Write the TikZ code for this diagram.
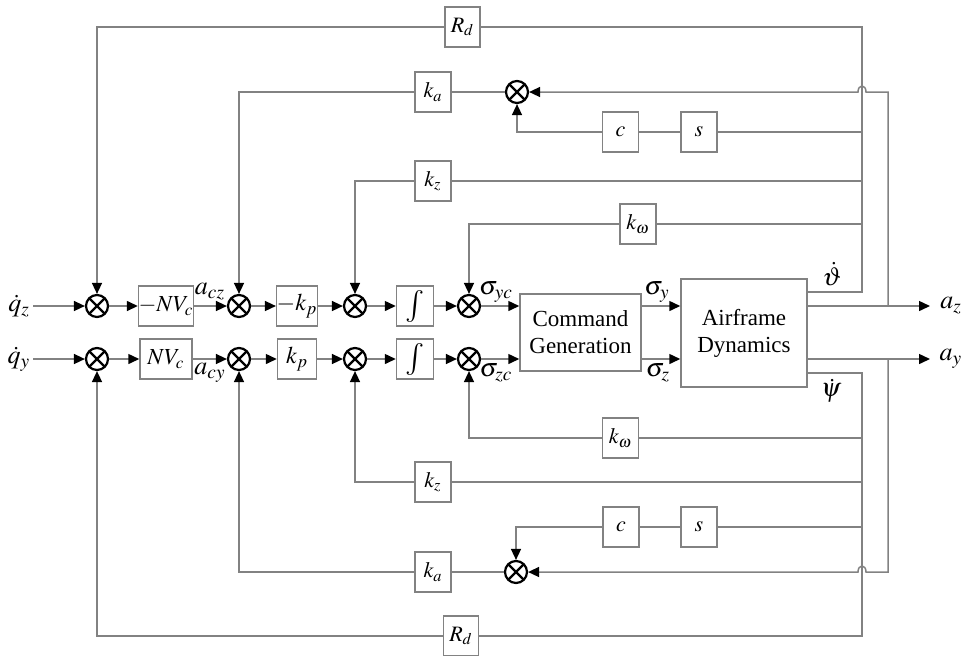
\documentclass[tikz,border=0pt]{standalone}
\usepackage{mathptmx}
\usepackage{fontspec}
\setmainfont{Liberation Serif}
\usetikzlibrary{arrows.meta,calc}
\definecolor{lgray}{RGB}{130,130,130}
\tikzset{
 ln/.style={draw=lgray, line width=0.75pt},
 arr/.style={ln, -{Triangle[length=5.5pt,width=5pt,color=black]}},
 blk/.style={draw=lgray, line width=0.75pt, fill=white, minimum width=18pt, minimum height=20pt, inner sep=0pt, font=\fontsize{11}{12}\selectfont},
 sumn/.style={circle, draw=black, line width=1.1pt, minimum size=11pt, inner sep=0pt,
   path picture={\draw[black,line width=1.1pt] (path picture bounding box.north west) -- (path picture bounding box.south east) (path picture bounding box.north east) -- (path picture bounding box.south west);}},
 lab/.style={inner sep=0pt, font=\fontsize{13}{15}\selectfont},
 big/.style={font=\fontsize{11.5}{13.5}\selectfont, align=center}
}
\begin{document}
\begin{tikzpicture}[x=0.5pt,y=-0.5pt]
\useasboundingbox (0,0) rectangle (964,655);
% main row nodes
\node[sumn] (s1z) at (97,306) {};
\node[sumn] (s1y) at (97,359) {};
\node[blk,minimum width=26pt,font=\fontsize{11.5}{14}\selectfont] (nvz) at (166,306) {$-NV_c$};
\node[blk,minimum width=26pt,font=\fontsize{11.5}{14}\selectfont] (nvy) at (166,359) {$NV_c$};
\node[sumn] (s2z) at (239,306) {};
\node[sumn] (s2y) at (239,359) {};
\node[blk,minimum width=19.5pt,font=\fontsize{12}{14}\selectfont] (kpz) at (297,306) {$-k_p$};
\node[blk,minimum width=19.5pt,font=\fontsize{12}{14}\selectfont] (kpy) at (297,359) {$k_p$};
\node[sumn] (s3z) at (355,306) {};
\node[sumn] (s3y) at (355,359) {};
\node[blk,minimum width=18.5pt,font=\fontsize{16}{18}\selectfont] (iz) at (415,306) {$\int$};
\node[blk,minimum width=18.5pt,font=\fontsize{16}{18}\selectfont] (iy) at (415,359) {$\int$};
\node[sumn] (s4z) at (469,306) {};
\node[sumn] (s4y) at (469,359) {};
\node[blk,big,minimum width=60.5pt,minimum height=38.5pt] (cmd) at (580.5,332.5) {Command\\Generation};
\node[blk,big,minimum width=63pt,minimum height=54pt] (air) at (744,333) {Airframe\\Dynamics};
% top feedback nodes
\node[blk,minimum width=17.5pt] (RdT) at (462.5,27) {$R_d$};
\node[blk] (kaT) at (433,92) {$k_a$};
\node[sumn] (sT) at (517,92) {};
\node[blk] (cT) at (620.5,132) {$c$};
\node[blk] (sgT) at (699,132) {$s$};
\node[blk] (kzT) at (433,181) {$k_z$};
\node[blk] (kwT) at (638,224) {$k_\omega$};
% bottom feedback nodes
\node[blk] (kwB) at (620.5,438) {$k_\omega$};
\node[blk] (kzB) at (433,482) {$k_z$};
\node[blk] (cB) at (621,527) {$c$};
\node[blk] (sgB) at (699,527) {$s$};
\node[sumn] (sB) at (516,572) {};
\node[blk] (kaB) at (433,572) {$k_a$};
\node[blk,minimum width=17.5pt] (RdB) at (461,636) {$R_d$};
% coordinates
\coordinate (inz) at (33,306);
\coordinate (iny) at (33,359);
\coordinate (outz) at (930,306);
\coordinate (outy) at (930,359);
\coordinate (th) at (862,292);
\coordinate (ps) at (862,373);
\coordinate (vtop) at (862,27);
\coordinate (vbot) at (862,636);
\coordinate (tcs) at (862,132);
\coordinate (tkz) at (862,181);
\coordinate (tkw) at (862,224);
\coordinate (bkw) at (862,438);
\coordinate (bkz) at (862,482);
\coordinate (bcs) at (862,527);
\coordinate (fz) at (888,306);
\coordinate (fzt) at (888,92);
\coordinate (fy) at (888,359);
\coordinate (fyb) at (888,572);
% forward path z
\draw[arr] (inz) -- (s1z);
\draw[arr] (s1z) -- (nvz);
\draw[arr] (nvz) -- (s2z);
\draw[arr] (s2z) -- (kpz);
\draw[arr] (kpz) -- (s3z);
\draw[arr] (s3z) -- (iz);
\draw[arr] (iz) -- (s4z);
\draw[arr] (s4z) -- (cmd.west |- s4z);
\draw[arr] (cmd.east |- s4z) -- (air.west |- s4z);
\draw[arr] (air.east |- s4z) -- (outz);
% forward path y
\draw[arr] (iny) -- (s1y);
\draw[arr] (s1y) -- (nvy);
\draw[arr] (nvy) -- (s2y);
\draw[arr] (s2y) -- (kpy);
\draw[arr] (kpy) -- (s3y);
\draw[arr] (s3y) -- (iy);
\draw[arr] (iy) -- (s4y);
\draw[arr] (s4y) -- (cmd.west |- s4y);
\draw[arr] (cmd.east |- s4y) -- (air.west |- s4y);
\draw[arr] (air.east |- s4y) -- (outy);
% top feedback
\draw[ln] (air.east |- th) -- (th) -- (vtop) -- (RdT);
\draw[arr] (RdT) -| (s1z);
\draw[ln] (tcs) -- (sgT);
\draw[ln] (sgT) -- (cT);
\draw[arr] (cT) -| (sT);
\draw[ln] (tkz) -- (kzT);
\draw[arr] (kzT) -| (s3z);
\draw[ln] (tkw) -- (kwT);
\draw[arr] (kwT) -| (s4z);
\draw[arr] (fz) -- (fzt) -- (866,92) .. controls (866,84) and (858,84) .. (858,92) -- (sT);
\draw[ln] (sT) -- (kaT);
\draw[arr] (kaT) -| (s2z);
% bottom feedback
\draw[ln] (air.east |- ps) -- (ps) -- (vbot) -- (RdB);
\draw[arr] (RdB) -| (s1y);
\draw[ln] (bcs) -- (sgB);
\draw[ln] (sgB) -- (cB);
\draw[arr] (cB) -| (sB);
\draw[ln] (bkz) -- (kzB);
\draw[arr] (kzB) -| (s3y);
\draw[ln] (bkw) -- (kwB);
\draw[arr] (kwB) -| (s4y);
\draw[arr] (fy) -- (fyb) -- (866,572) .. controls (866,564) and (858,564) .. (858,572) -- (sB);
\draw[ln] (sB) -- (kaB);
\draw[arr] (kaB) -| (s2y);
% labels
\node[lab] (lqz) at (19,306) {$\dot q_z$};
\node[lab] (lqy) at (19,359) {$\dot q_y$};
\node[lab] (lacz) at (210,292) {$a_{cz}$};
\node[lab] (lacy) at (210,373) {$a_{cy}$};
\node[lab] (lsyc) at (496,292) {$\sigma_{yc}$};
\node[lab] (lszc) at (496,373) {$\sigma_{zc}$};
\node[lab] (lsy) at (657,292) {$\sigma_y$};
\node[lab] (lsz) at (658,373) {$\sigma_z$};
\node[lab] (lth) at (832,274) {$\dot\vartheta$};
\node[lab] (lps) at (831,391) {$\dot\psi$};
\node[lab] (laz) at (951,306) {$a_z$};
\node[lab] (lay) at (951,359) {$a_y$};
\end{tikzpicture}
\end{document}
